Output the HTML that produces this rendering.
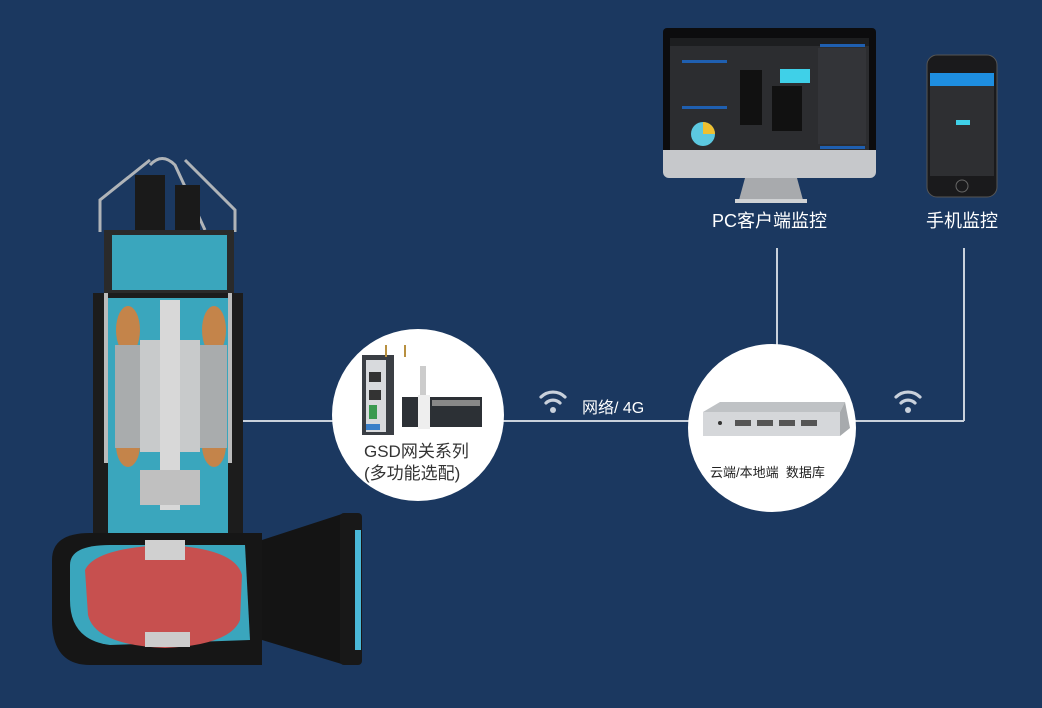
<!DOCTYPE html>
<html><head><meta charset="utf-8"><style>
html,body{margin:0;padding:0;background:#1b3860;}
body{width:1042px;height:708px;overflow:hidden;position:relative;font-family:"Liberation Sans","Noto Sans CJK SC",sans-serif;}
svg{position:absolute;left:0;top:0}
.t{position:absolute;color:#fff;white-space:nowrap}
</style></head><body>
<svg width="1042" height="708" viewBox="0 0 1042 708">
<rect width="1042" height="708" fill="#1b3860"/>
<!-- connectors -->
<g stroke="#c9d1dc" stroke-width="2" fill="none">
<line x1="238" y1="421" x2="340" y2="421"/>
<line x1="500" y1="421" x2="695" y2="421"/>
<line x1="850" y1="421" x2="964" y2="421"/>
<line x1="777" y1="248" x2="777" y2="350"/>
<line x1="964" y1="248" x2="964" y2="421"/>
</g>
<!-- wifi icons -->
<g fill="none" stroke="#c9d1dc" stroke-width="3.2" stroke-linecap="round">
<path d="M541 397 a17 17 0 0 1 24 0"/><path d="M546 403 a10 10 0 0 1 14 0"/>
<path d="M896 397 a17 17 0 0 1 24 0"/><path d="M901 403 a10 10 0 0 1 14 0"/>
</g>
<circle cx="553" cy="410" r="3" fill="#c9d1dc"/><circle cx="908" cy="410" r="3" fill="#c9d1dc"/>
<!-- circles -->
<circle cx="418" cy="415" r="86" fill="#fff"/>
<circle cx="772" cy="428" r="84" fill="#fff"/>
<!-- gateway devices -->
<rect x="362" y="355" width="32" height="80" fill="#3a3e44"/>
<rect x="366" y="360" width="20" height="72" fill="#d8dadd"/>
<rect x="369" y="372" width="12" height="10" fill="#333"/><rect x="369" y="390" width="12" height="10" fill="#333"/>
<rect x="369" y="405" width="8" height="14" fill="#3a9a50"/><rect x="366" y="424" width="14" height="6" fill="#3a7fc8"/>
<rect x="385" y="345" width="2" height="12" fill="#b89040"/><rect x="404" y="345" width="2" height="12" fill="#b89040"/>
<rect x="420" y="366" width="6" height="30" fill="#ccc"/>
<rect x="402" y="397" width="80" height="30" fill="#2c3035"/>
<rect x="418" y="395" width="12" height="34" fill="#eee"/>
<rect x="432" y="400" width="48" height="6" fill="#888"/>
<!-- server box -->
<polygon points="703,412 720,402 845,402 840,412" fill="#bfc2c5"/>
<rect x="703" y="412" width="137" height="24" fill="#d5d7da"/>
<polygon points="840,412 845,402 850,428 840,436" fill="#a7aaad"/>
<g fill="#555"><rect x="735" y="420" width="16" height="6"/><rect x="757" y="420" width="16" height="6"/><rect x="779" y="420" width="16" height="6"/><rect x="801" y="420" width="16" height="6"/></g>
<circle cx="720" cy="423" r="2" fill="#333"/>
<!-- monitor -->
<rect x="663" y="28" width="213" height="126" rx="4" fill="#0c0c0e"/>
<rect x="670" y="38" width="199" height="112" fill="#2c2d30"/>
<rect x="670" y="38" width="199" height="8" fill="#1d1e20"/>
<rect x="682" y="60" width="45" height="3" fill="#1f5fb0"/><rect x="682" y="106" width="45" height="3" fill="#1f5fb0"/>
<rect x="820" y="44" width="45" height="3" fill="#1f5fb0"/><rect x="820" y="146" width="45" height="3" fill="#1f5fb0"/>
<rect x="818" y="48" width="48" height="96" fill="#333438"/>
<rect x="780" y="69" width="30" height="14" fill="#3fd0e8"/>
<rect x="772" y="86" width="30" height="45" fill="#111"/>
<circle cx="703" cy="134" r="12" fill="#5cc8e0"/><path d="M703 134 L703 122 A12 12 0 0 1 715 134 Z" fill="#f0c030"/>
<rect x="740" y="70" width="22" height="55" fill="#111"/>
<path d="M663 150 h213 v22 a6 6 0 0 1 -6 6 h-201 a6 6 0 0 1 -6 -6 z" fill="#c6c8cb"/>
<path d="M745 178 h52 l6 22 h-64 z" fill="#a8aaad"/>
<rect x="735" y="199" width="72" height="4" fill="#d0d2d4"/>
<!-- phone -->
<rect x="927" y="55" width="70" height="142" rx="10" fill="#1a1a1c" stroke="#555" stroke-width="1"/>
<rect x="930" y="73" width="64" height="103" fill="#2e2f32"/>
<rect x="930" y="73" width="64" height="13" fill="#1e8ee0"/>
<rect x="956" y="120" width="14" height="5" fill="#3fd0e8"/>
<circle cx="962" cy="186" r="6" fill="none" stroke="#666"/>
<!-- pump -->
<path d="M150 165 Q162 152 175 165 L205 230" fill="none" stroke="#b0b4b8" stroke-width="3"/>
<path d="M100 232 L100 200 L150 160" fill="none" stroke="#b0b4b8" stroke-width="3"/>
<path d="M235 232 L235 210 L185 160" fill="none" stroke="#b0b4b8" stroke-width="3"/>
<rect x="135" y="175" width="30" height="70" fill="#1a1a1a"/>
<rect x="175" y="185" width="25" height="60" fill="#1a1a1a"/>
<rect x="104" y="230" width="130" height="65" fill="#2a2a2a"/>
<rect x="112" y="235" width="115" height="55" fill="#3aa6bd"/>
<rect x="93" y="293" width="150" height="245" fill="#1c1c1c"/>
<rect x="108" y="298" width="120" height="162" fill="#3aa6bd"/>
<rect x="108" y="460" width="120" height="75" fill="#3aa6bd"/>
<rect x="104" y="293" width="4" height="170" fill="#bbb"/><rect x="228" y="293" width="4" height="170" fill="#bbb"/>
<ellipse cx="128" cy="330" rx="12" ry="24" fill="#c4844a"/><ellipse cx="214" cy="330" rx="12" ry="24" fill="#c4844a"/>
<ellipse cx="128" cy="445" rx="12" ry="22" fill="#c4844a"/><ellipse cx="214" cy="445" rx="12" ry="22" fill="#c4844a"/>
<rect x="115" y="345" width="112" height="103" fill="#a9acad"/>
<rect x="140" y="340" width="60" height="112" fill="#c8cacb"/>
<rect x="160" y="300" width="20" height="210" fill="#d8d8d8"/>
<rect x="140" y="470" width="60" height="35" fill="#c0c0c0"/>
<path d="M52 560 Q52 533 90 533 L262 533 L262 665 L90 665 Q52 665 52 620 Z" fill="#161616"/>
<path d="M70 565 Q70 545 110 545 L245 545 L250 640 L110 645 Q70 640 70 600 Z" fill="#3aa6bd"/>
<path d="M85 570 Q95 548 165 545 Q235 548 242 575 L240 620 Q230 645 165 648 Q95 645 88 615 Z" fill="#c7504f"/>
<rect x="145" y="540" width="40" height="20" fill="#d0d0d0"/>
<rect x="145" y="632" width="45" height="15" fill="#ccc"/>
<path d="M262 540 L345 513 L345 665 L262 640 Z" fill="#141414"/>
<rect x="340" y="513" width="22" height="152" rx="4" fill="#181818"/>
<rect x="355" y="530" width="6" height="120" fill="#4ab8d8"/>
</svg>
<div class="t" style="left:712px;top:207px;font-size:18px;">PC客户端监控</div>
<div class="t" style="left:926px;top:207px;font-size:18px;">手机监控</div>
<div class="t" style="left:582px;top:394px;font-size:16px;">网络/ 4G</div>
<div class="t" style="left:364px;top:437px;font-size:17px;color:#333;">GSD网关系列</div>
<div class="t" style="left:364px;top:459px;font-size:17px;color:#333;">(多功能选配)</div>
<div class="t" style="left:710px;top:462px;font-size:13px;color:#222;">云端/本地端&nbsp; 数据库</div>
</body></html>
